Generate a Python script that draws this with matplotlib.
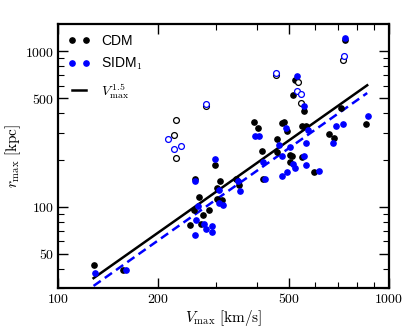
import matplotlib
matplotlib.use("Agg")
import matplotlib.pyplot as plt
import matplotlib.ticker as ticker
import numpy as np

plt.rcParams['mathtext.fontset'] = 'cm'
plt.rcParams['font.family'] = ['Liberation Sans', 'DejaVu Sans']

# CDM haloes (filled) - Vmax [km/s], rmax [kpc]
cdm_v = [128, 157, 251, 257, 259, 267, 270, 274, 286, 299, 309, 303, 302, 312,
         345, 352, 392, 401, 413, 416, 459, 459, 475, 482, 491, 503, 508, 503,
         512, 521, 554, 548, 563, 548, 592, 659, 684, 715, 739, 852]
cdm_r = [42, 39.4, 76, 95, 150, 116, 78, 88, 95, 185, 146, 132, 113, 111,
         152, 138, 353, 323, 227, 150, 271, 224, 347, 353, 308, 216, 211, 193,
         524, 650, 411, 329, 329, 210, 167, 296, 277, 434, 1181, 342]

# CDM haloes shown as open circles
cdm_open_v = [228, 224, 227, 280, 456, 531, 542, 725]
cdm_open_r = [363, 290, 206, 447, 709, 632, 467, 877]

# SIDM_1 haloes (filled)
sidm_v = [129, 160, 260, 264, 261, 259, 276, 280, 291, 291, 299, 307, 307, 316,
          349, 356, 395, 404, 416, 422, 467, 487, 475, 503, 491, 475, 514, 521,
          528, 554, 571, 563, 554, 563, 613, 677, 692, 725, 739, 865]
sidm_r = [37.5, 39.4, 147, 101.5, 82, 66, 78, 72, 75, 69, 202, 129, 105, 103,
          147, 126, 286, 286, 193, 151, 250, 323, 211, 241, 167, 157, 189, 178,
          689, 442, 313, 259, 211, 185, 171, 259, 333, 342, 1221, 385]

# SIDM_1 haloes shown as open circles
sidm_open_v = [215, 224, 235, 280, 456, 528, 542, 731]
sidm_open_r = [272, 235, 245, 458, 726, 556, 534, 939]

# power-law r = A * V^1.5
fit_range = [128, 860]
amp_cdm = 10 ** -1.62
amp_sidm = 10 ** -1.67

fig = plt.figure(figsize=(4.15, 3.33), dpi=100)
ax = fig.add_axes([0.140, 0.135, 0.797, 0.793])

vv = np.logspace(np.log10(fit_range[0]), np.log10(fit_range[1]), 50)
ax.plot(vv, amp_cdm * vv ** 1.5, color='black', lw=1.8, zorder=3)
ax.plot(vv, amp_sidm * vv ** 1.5, color='blue', lw=1.8, ls=(0, (3.5, 2)), zorder=3)

ax.plot(cdm_v, cdm_r, 'o', color='black', ms=3.8, ls='none', zorder=4)
ax.plot(cdm_open_v, cdm_open_r, 'o', mfc='white', mec='black', mew=0.9, ms=4.2,
        ls='none', zorder=4)
ax.plot(sidm_v, sidm_r, 'o', color='blue', ms=3.8, ls='none', zorder=5)
ax.plot(sidm_open_v, sidm_open_r, 'o', mfc='white', mec='blue', mew=0.9, ms=4.2,
        ls='none', zorder=5)

# legend proxies
h1, = ax.plot([], [], 'o', color='black', ms=3.8, ls='none')
h2, = ax.plot([], [], 'o', color='blue', ms=3.8, ls='none')
h3, = ax.plot([], [], color='black', lw=1.8)
ax.legend([h1, h2, h3], ['CDM', 'SIDM$_1$', r'$V_{\rm max}^{\,1.5}$'],
          loc='upper left', frameon=False, numpoints=2, fontsize=10,
          handlelength=1.6, labelspacing=0.6, borderaxespad=0.3)

ax.set_xscale('log')
ax.set_yscale('log')
ax.set_xlim(100, 1000)
ax.set_ylim(30, 1500)

fmt = ticker.FuncFormatter(lambda v, p: r'$%d$' % round(v))
ax.xaxis.set_major_locator(ticker.FixedLocator([100, 200, 500, 1000]))
ax.yaxis.set_major_locator(ticker.FixedLocator([50, 100, 500, 1000]))
ax.xaxis.set_major_formatter(fmt)
ax.yaxis.set_major_formatter(fmt)
ax.xaxis.set_minor_locator(ticker.LogLocator(subs=np.arange(1, 10)))
ax.yaxis.set_minor_locator(ticker.LogLocator(subs=np.arange(1, 10)))
ax.xaxis.set_minor_formatter(ticker.NullFormatter())
ax.yaxis.set_minor_formatter(ticker.NullFormatter())

ax.tick_params(which='both', direction='in', top=True, right=True, labelsize=10)
ax.tick_params(which='major', length=7, width=1.0, pad=3)
ax.tick_params(which='minor', length=4, width=0.8)
for s in ax.spines.values():
    s.set_linewidth(1.6)

ax.set_xlabel(r'$V_{\rm max}\ [{\rm km/s}]$', fontsize=11, labelpad=1)
ax.set_ylabel(r'$r_{\rm max}\ [{\rm kpc}]$', fontsize=11, labelpad=1)

fig.savefig('out.png', dpi=100)
